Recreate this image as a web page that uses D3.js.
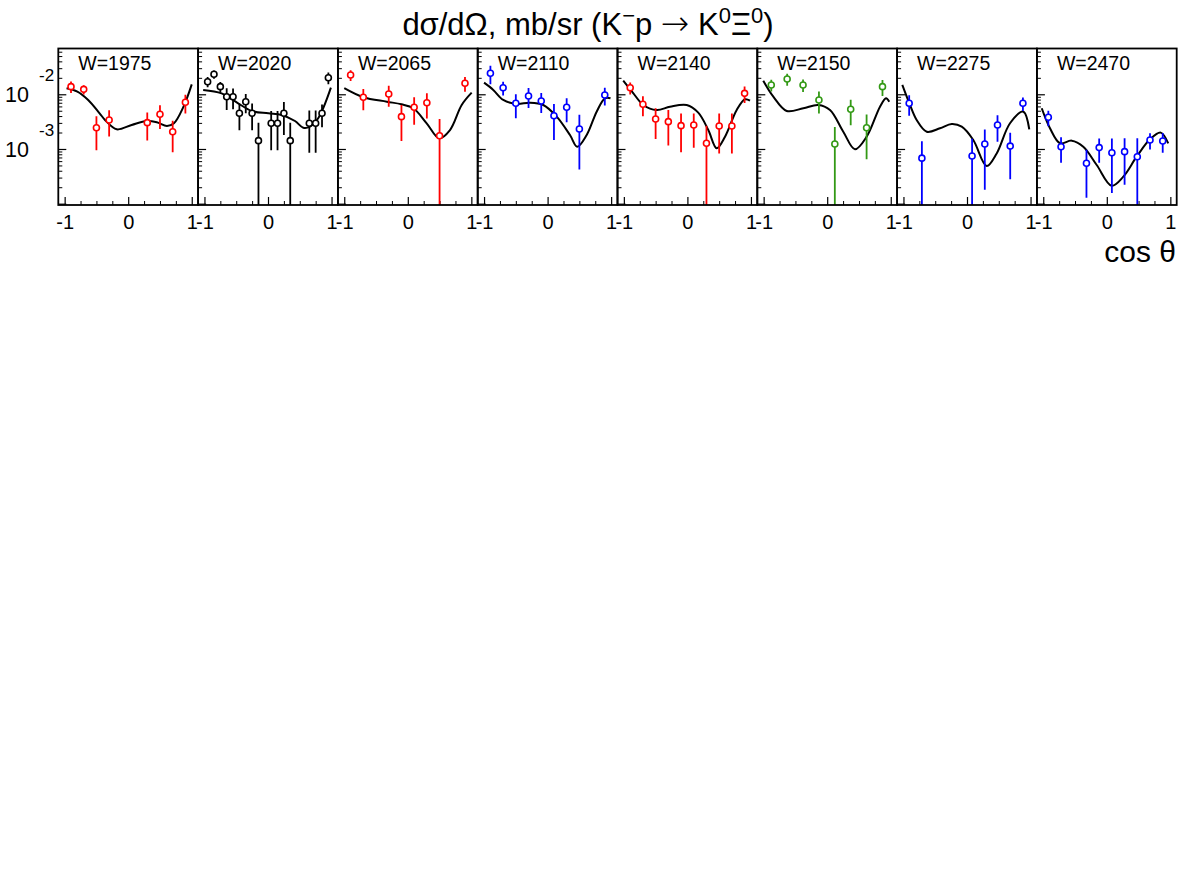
<!DOCTYPE html>
<html>
<head>
<meta charset="utf-8">
<script src="https://cdn.jsdelivr.net/npm/d3@7"></script>
<style>
  body { margin: 0; background: #fff; }
  svg { display: block; font-family: "Liberation Sans", Arial, sans-serif; }
</style>
</head>
<body>
<svg id="chart" width="1182" height="886"></svg>
<script>
// energies shown in each pad, and the marker colour of each data set
const energies = ['1975', '2020', '2065', '2110', '2140', '2150', '2275', '2470'];
const markerColors = ['#ff0000', '#000000', '#ff0000', '#0000ff',
  '#ff0000', '#339915', '#0000ff', '#0000ff'];

// measured points: cos theta, dsigma/dOmega (mb/sr), error
const cos1975 = [-0.9, -0.7, -0.5, -0.3, 0.3, 0.5, 0.7, 0.9];
const val1975 = [0.0138, 0.0123, 0.00245, 0.00339, 0.00303, 0.00431, 0.00207, 0.00714];
const err1975 = [0.0033, 0.0024, 0.0015, 0.0017, 0.0016, 0.002, 0.0012, 0.0027];

const cos2020 = [-0.95, -0.85, -0.75, -0.65, -0.55, -0.45, -0.35, -0.25, -0.15,
  0.05, 0.15, 0.25, 0.35, 0.65, 0.75, 0.85, 0.95];
const val2020 = [0.017, 0.0232, 0.0138, 0.00904, 0.00904, 0.0045, 0.00732, 0.0045, 0.00142,
  0.00295, 0.00295, 0.0045, 0.00142, 0.00295, 0.00295, 0.0045, 0.0201];
const err2020 = [0.0036, 0.004, 0.003, 0.0039, 0.0037, 0.0023, 0.0028, 0.0023, 0.0016,
  0.002, 0.002, 0.0027, 0.0016, 0.0021, 0.0021, 0.002, 0.0048];

const cos2065 = [-0.9, -0.7, -0.3, -0.1, 0.1, 0.3, 0.5, 0.9];
const val2065 = [0.0225, 0.00882, 0.0101, 0.0039, 0.00578, 0.00702, 0.00175, 0.0159];
const err2065 = [0.005, 0.0037, 0.0042, 0.0025, 0.003, 0.0034, 0.0018, 0.0048];

const cos2110 = [-0.9, -0.7, -0.5, -0.3, -0.1, 0.1, 0.3, 0.5, 0.9];
const val2110 = [0.0242, 0.0132, 0.00685, 0.00931, 0.00754, 0.00406, 0.00578, 0.00232, 0.00971];
const err2110 = [0.009, 0.0037, 0.0032, 0.0037, 0.003, 0.0026, 0.0027, 0.0019, 0.0035];

const cos2140 = [-0.9, -0.7, -0.5, -0.3, -0.1, 0.1, 0.3, 0.5, 0.7, 0.9];
const val2140 = [0.0132, 0.00656, 0.00353, 0.00316, 0.00267, 0.00275, 0.00127, 0.00263, 0.00263, 0.0104];
const err2140 = [0.0033, 0.0026, 0.002, 0.002, 0.0018, 0.0017, 0.0014, 0.0018, 0.0018, 0.0035];

const cos2150 = [-0.88, -0.63, -0.38, -0.13, 0.12, 0.37, 0.62, 0.87];
const val2150 = [0.0148, 0.019, 0.0148, 0.00787, 0.00123, 0.00532, 0.00245, 0.0138];
const err2150 = [0.0036, 0.0047, 0.0038, 0.0034, 0.0013, 0.0026, 0.0018, 0.0045];

const cos2275 = [-0.91, -0.71, 0.08, 0.28, 0.48, 0.68, 0.88];
const val2275 = [0.00685, 0.00068, 0.000745, 0.00123, 0.00275, 0.00113, 0.00685];
const err2275 = [0.0028, 0.0007, 0.0008, 0.00105, 0.0014, 0.00085, 0.0019];

const cos2470 = [-0.92, -0.72, -0.32, -0.12, 0.08, 0.28, 0.48, 0.68, 0.88];
const val2470 = [0.0038, 0.0011, 0.000548, 0.00106, 0.000856, 0.000893, 0.000723, 0.00146, 0.0014];
const err2470 = [0.0012, 0.00054, 0.00042, 0.0005, 0.0007, 0.00067, 0.00085, 0.00048, 0.00055];

const fitCos1975 = [-0.97, -0.8, -0.63, -0.45, -0.365, -0.18, 0.055, 0.29, 0.45, 0.61, 0.72, 0.87, 1.0];
const fit1975 = [0.0129, 0.0112, 0.00787, 0.00449, 0.00339, 0.00229, 0.00275, 0.00325, 0.00308,
  0.00263, 0.00295, 0.00593, 0.0152];

const fitCos2020 = [-1.02, -0.73, -0.47, -0.257, 0.005, 0.215, 0.425, 0.555, 0.66, 0.79, 0.99];
const fit2020 = [0.012, 0.0104, 0.00685, 0.00495, 0.0045, 0.00419, 0.00325, 0.00245, 0.00256,
  0.00364, 0.0132];

const fitCos2065 = [-1.0, -0.7, -0.33, -0.1, 0.087, 0.297, 0.495, 0.664, 0.848, 1.005];
const fit2065 = [0.0129, 0.00882, 0.00732, 0.00656, 0.00555, 0.00295, 0.00157, 0.00222, 0.00637, 0.0107];

const fitCos2110 = [-1.0, -0.855, -0.697, -0.486, -0.277, -0.068, 0.143, 0.352, 0.467, 0.615,
  0.772, 0.902, 0.99];
const fit2110 = [0.0163, 0.012, 0.00787, 0.00665, 0.00702, 0.00637, 0.0039, 0.0018, 0.0011, 0.0018,
  0.00481, 0.00845, 0.00845];

const fitCos2140 = [-1.01, -0.85, -0.694, -0.483, -0.274, -0.011, 0.171, 0.329, 0.461, 0.592,
  0.776, 0.906, 0.985];
const fit2140 = [0.0177, 0.0104, 0.00637, 0.00516, 0.00593, 0.00637, 0.00461, 0.00222, 0.00103,
  0.00168, 0.00516, 0.0081, 0.00764];

const fitCos2150 = [-1.006, -0.848, -0.637, -0.376, -0.14, 0.044, 0.253, 0.437, 0.621, 0.831,
  0.925, 0.977];
const fit2150 = [0.0177, 0.00904, 0.00495, 0.00555, 0.00637, 0.00516, 0.00207, 0.00099, 0.00168,
  0.00593, 0.00845, 0.00732];

const fitCos2275 = [-1.018, -0.897, -0.792, -0.634, -0.425, -0.241, -0.083, 0.099, 0.31, 0.467,
  0.677, 0.886, 0.98];
const fit2275 = [0.0148, 0.00637, 0.00339, 0.00207, 0.00239, 0.00286, 0.00256, 0.00146, 0.00049,
  0.00083, 0.00295, 0.00481, 0.00229];

const fitCos2470 = [-1.024, -0.894, -0.736, -0.552, -0.37, -0.159, 0.077, 0.26, 0.47, 0.68,
  0.848, 0.967];
const fit2470 = [0.00555, 0.00239, 0.00127, 0.00142, 0.0011, 0.00051, 0.000213, 0.000312, 0.000723,
  0.0015, 0.00199, 0.00127];

const pointSets = [
  [cos1975, val1975, err1975], [cos2020, val2020, err2020],
  [cos2065, val2065, err2065], [cos2110, val2110, err2110],
  [cos2140, val2140, err2140], [cos2150, val2150, err2150],
  [cos2275, val2275, err2275], [cos2470, val2470, err2470],
];
const fitSets = [
  [fitCos1975, fit1975], [fitCos2020, fit2020], [fitCos2065, fit2065],
  [fitCos2110, fit2110], [fitCos2140, fit2140], [fitCos2150, fit2150],
  [fitCos2275, fit2275], [fitCos2470, fit2470],
];

// pad geometry
const padLeft = 58.3;
const padW = 139.8;
const padTop = 48.5;
const padBottom = 205;
const fontFamily = '"Liberation Sans", Arial, sans-serif';

const svg = d3.select('#chart');

const y = d3.scaleLog()
    .domain([9.46e-5, 0.0687])
    .range([padBottom, padTop]);

// log ticks: decades are major, 2..9 are minor
const yMajor = [1e-4, 1e-3, 1e-2];
const yMinor = [];
yMajor.forEach((d) => {
  for (let k = 2; k <= 9; k++) {
    const v = d * k;
    if (v >= y.domain()[0] && v <= y.domain()[1]) yMinor.push(v);
  }
});

const xMajor = [-1, 0, 1];
const xMinor = [-0.75, -0.5, -0.25, 0.25, 0.5, 0.75];

energies.forEach((w, i) => {
  const left = padLeft + i * padW;
  const x = d3.scaleLinear().domain([-1.1, 1.1]).range([left, left + padW]);
  const g = svg.append('g');

  g.append('clipPath')
      .attr('id', 'clip' + i)
      .append('rect')
      .attr('x', left)
      .attr('y', padTop)
      .attr('width', padW)
      .attr('height', padBottom - padTop);

  // x ticks, pointing up from the bottom edge
  g.append('g')
      .attr('transform', `translate(0,${padBottom})`)
      .call(d3.axisBottom(x).tickValues(xMinor).tickSize(-4).tickFormat(''))
      .call((a) => a.select('.domain').remove());
  g.append('g')
      .attr('transform', `translate(0,${padBottom})`)
      .call(d3.axisBottom(x).tickValues(xMajor).tickSize(-8).tickPadding(10)
          .tickFormat(d3.format('d')))
      .attr('font-size', 20)
      .attr('font-family', fontFamily)
      .call((a) => a.select('.domain').remove())
      .call((a) => a.selectAll('text').attr('fill', '#000').text((d) => d < 0 ? '-1' : d))
      .call((a) => a.selectAll('line').attr('stroke-width', 1.2));

  // y ticks on the left edge of every pad
  g.append('g')
      .attr('transform', `translate(${left},0)`)
      .call(d3.axisLeft(y).tickValues(yMinor).tickSize(-4).tickFormat(''))
      .call((a) => a.select('.domain').remove());
  g.append('g')
      .attr('transform', `translate(${left},0)`)
      .call(d3.axisLeft(y).tickValues(yMajor).tickSize(-8).tickFormat(''))
      .call((a) => a.select('.domain').remove())
      .call((a) => a.selectAll('line').attr('stroke-width', 1.2));

  // fit curve
  const [fc, fv] = fitSets[i];
  const line = d3.line()
      .x((d) => x(d[0]))
      .y((d) => y(d[1]))
      .curve(d3.curveCatmullRom.alpha(0.5));
  g.append('path')
      .datum(fc.map((c, k) => [c, fv[k]]))
      .attr('clip-path', `url(#clip${i})`)
      .attr('d', line)
      .attr('fill', 'none')
      .attr('stroke', '#000')
      .attr('stroke-width', 2);

  // data points with error bars
  const [pc, pv, pe] = pointSets[i];
  const pts = pc.map((c, k) => ({c: c, v: pv[k], e: pe[k]}));
  const color = markerColors[i];
  const lo = y.domain()[0] * 0.5;
  g.append('g')
      .attr('clip-path', `url(#clip${i})`)
      .selectAll('line')
      .data(pts)
      .join('line')
      .attr('x1', (d) => x(d.c))
      .attr('x2', (d) => x(d.c))
      .attr('y1', (d) => y(d.v + d.e))
      .attr('y2', (d) => y(Math.max(d.v - d.e, lo)))
      .attr('stroke', color)
      .attr('stroke-width', 1.8);
  g.append('g')
      .selectAll('circle')
      .data(pts)
      .join('circle')
      .attr('cx', (d) => x(d.c))
      .attr('cy', (d) => y(d.v))
      .attr('r', 3)
      .attr('fill', '#fff')
      .attr('stroke', color)
      .attr('stroke-width', 1.6);

  // pad frame
  g.append('rect')
      .attr('x', left)
      .attr('y', padTop)
      .attr('width', padW)
      .attr('height', padBottom - padTop)
      .attr('fill', 'none')
      .attr('stroke', '#000')
      .attr('stroke-width', 1.8);

  g.append('text')
      .attr('x', left + 20)
      .attr('y', padTop + 21.5)
      .attr('font-size', 19.5)
      .text('W=' + w);
});

// y labels, ROOT style: "10" below-left and the exponent above
[[1e-2, '-2'], [1e-3, '-3']].forEach(([v, ex]) => {
  svg.append('text')
      .attr('x', 5)
      .attr('y', y(v) + 8)
      .attr('font-size', 21.5)
      .text('10');
  svg.append('text')
      .attr('x', 39)
      .attr('y', y(v) - 13.4)
      .attr('font-size', 17)
      .text(ex);
});

// title
const title = svg.append('text')
    .attr('x', 588)
    .attr('y', 35)
    .attr('text-anchor', 'middle')
    .attr('font-size', 31);
title.append('tspan').text('dσ/dΩ, mb/sr (K');
title.append('tspan').attr('dy', -12).attr('font-size', 22).text('−');
title.append('tspan').attr('dy', 12).text('p ');
title.append('tspan').attr('font-family', '"DejaVu Sans"').attr('font-size', 34)
    .attr('font-weight', 300).text('→');
title.append('tspan').text(' K');
title.append('tspan').attr('dy', -12).attr('font-size', 22).text('0');
title.append('tspan').attr('dy', 12).text('Ξ');
title.append('tspan').attr('dy', -12).attr('font-size', 22).text('0');
title.append('tspan').attr('dy', 12).text(')');

svg.append('text')
    .attr('x', 1176)
    .attr('y', 262)
    .attr('text-anchor', 'end')
    .attr('font-size', 30)
    .text('cos θ');
</script>
</body>
</html>
